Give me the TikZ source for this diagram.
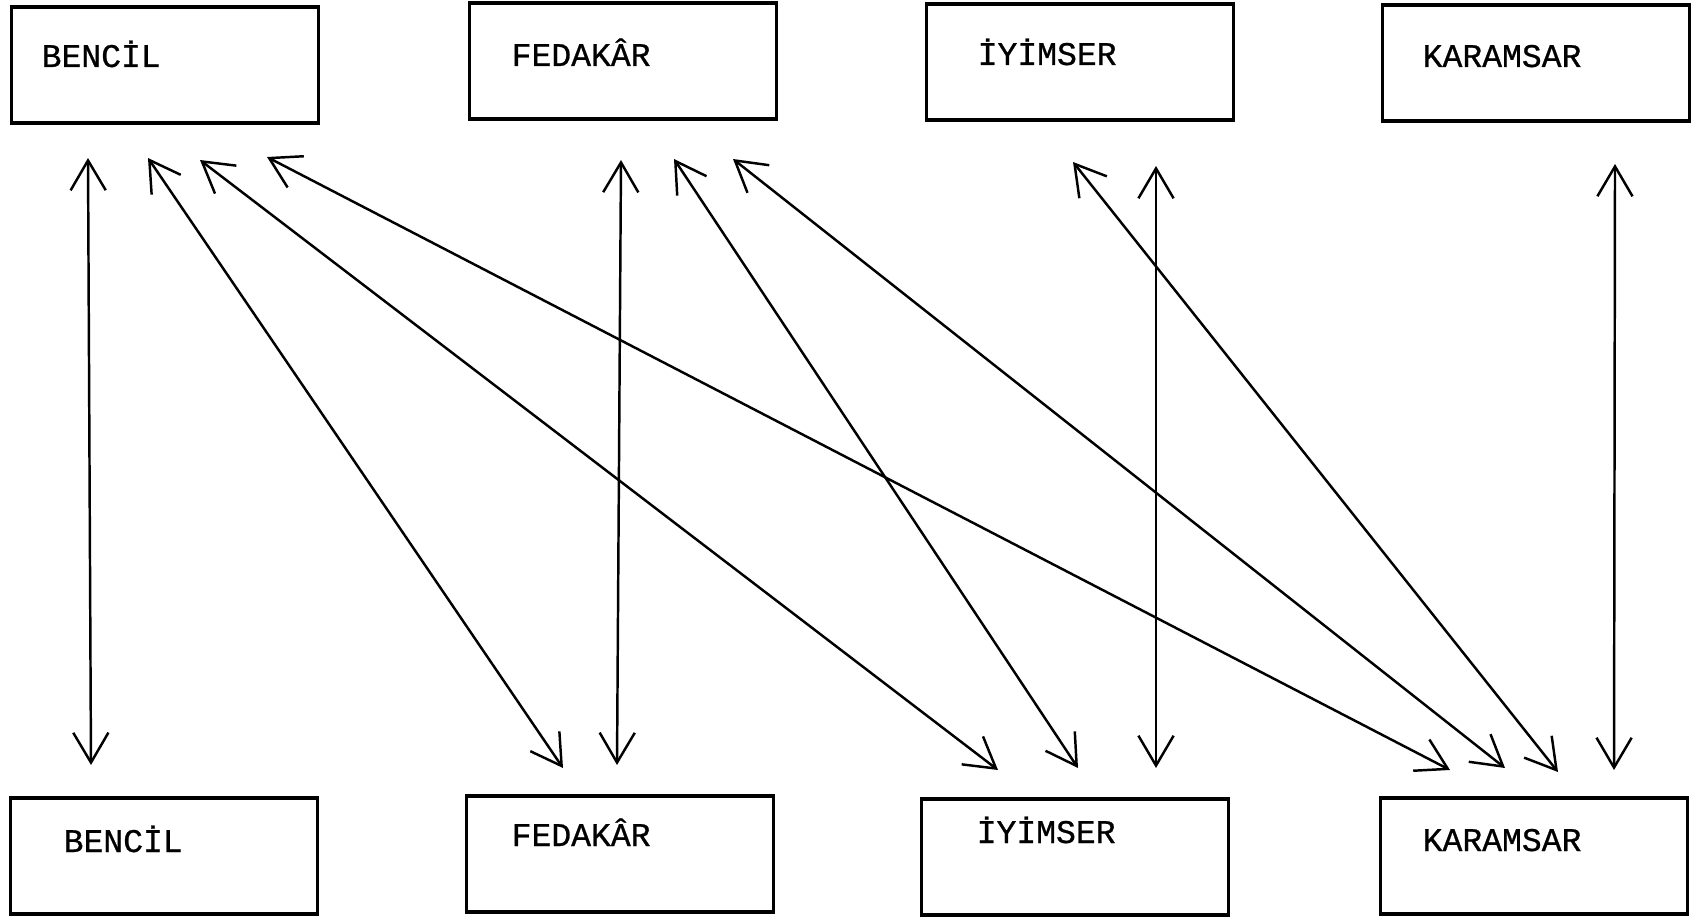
\documentclass[tikz,border=0pt]{standalone}
\usepackage{fontspec}
\newfontfamily\daktilo[FakeBold=0.7]{Liberation Mono}
\usetikzlibrary{arrows.meta}
\tikzset{
	kutu/.style={draw, line width=0.9pt, inner sep=0pt, minimum width=3.07cm, minimum height=1.16cm},
	yazi/.style={anchor=base west, inner sep=0pt, font=\daktilo\fontsize{9.4}{11}\selectfont},
	ok/.style={{Straight Barb[length=8.5pt,width=10pt]}-{Straight Barb[length=8.5pt,width=10pt]}, line width=0.7pt}
}
\begin{document}
\begin{tikzpicture}[x=0.01cm, y=-0.01cm]
	\useasboundingbox (0,0) rectangle (1691,919);
	% ust sira
	\node[kutu] (b1) at (165,65) {};
	\node[kutu] (f1) at (623,61) {};
	\node[kutu] (i1) at (1080,62) {};
	\node[kutu] (k1) at (1536,63) {};
	\node[yazi] (tb1) at (41,67) {BENCİL};
	\node[yazi] (tf1) at (511,66) {FEDAKÂR};
	\node[yazi] (ti1) at (977,65) {İYİMSER};
	\node[yazi] (tk1) at (1422,67) {KARAMSAR};
	% alt sira
	\node[kutu] (b2) at (164,856) {};
	\node[kutu] (f2) at (620,854) {};
	\node[kutu] (i2) at (1075,857) {};
	\node[kutu] (k2) at (1534,856) {};
	\node[yazi] (tb2) at (63,852) {BENCİL};
	\node[yazi] (tf2) at (511,846) {FEDAKÂR};
	\node[yazi] (ti2) at (976,843) {İYİMSER};
	\node[yazi] (tk2) at (1422,851) {KARAMSAR};

	\coordinate (ua) at (88,158);
	\coordinate (ub) at (148,158);
	\coordinate (uc) at (200,160);
	\coordinate (ud) at (267,157);
	\coordinate (ue) at (621,160);
	\coordinate (uf) at (674,159);
	\coordinate (ug) at (733,159);
	\coordinate (uh) at (1073,162);
	\coordinate (ui) at (1156,166);
	\coordinate (uj) at (1615,164);
	\coordinate (aa) at (91,765);
	\coordinate (ab) at (563,768);
	\coordinate (ac) at (617,765);
	\coordinate (ad) at (998,770);
	\coordinate (ae) at (1078,768);
	\coordinate (af) at (1156,768);
	\coordinate (ag) at (1450,770);
	\coordinate (ah) at (1505,768);
	\coordinate (ai) at (1558,772);
	\coordinate (aj) at (1614,770);

	\draw[ok] (ua) -- (aa);
	\draw[ok] (ub) -- (ab);
	\draw[ok] (uc) -- (ad);
	\draw[ok] (ud) -- (ag);
	\draw[ok] (ue) -- (ac);
	\draw[ok] (uf) -- (ae);
	\draw[ok] (ug) -- (ah);
	\draw[ok] (uh) -- (ai);
	\draw[ok] (ui) -- (af);
	\draw[ok] (uj) -- (aj);
\end{tikzpicture}
\end{document}
